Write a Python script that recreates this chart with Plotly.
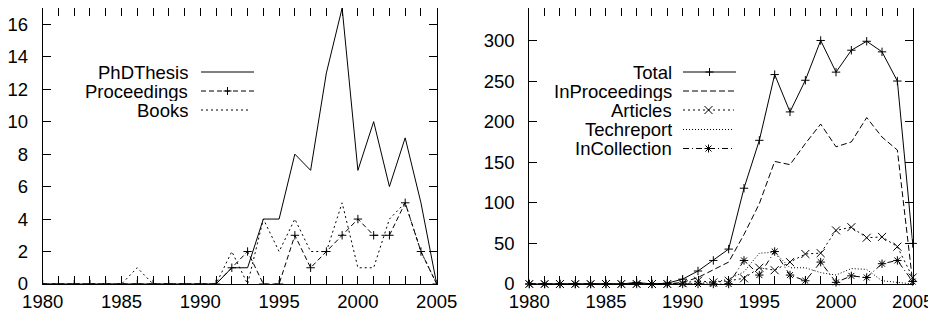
import plotly.graph_objects as go

# ---------------- data ----------------
years = list(range(1980, 2006))

# left panel
phd_thesis = [0, 0, 0, 0, 0, 0, 0, 0, 0, 0, 0, 0,
              1, 1, 4, 4, 8, 7, 13, 17, 7, 10, 6, 9, 5, 0]
proceedings = [0, 0, 0, 0, 0, 0, 0, 0, 0, 0, 0, 0,
               1, 2, 0, 0, 3, 1, 2, 3, 4, 3, 3, 5, 2, 0]
books = [0, 0, 0, 0, 0, 0, 1, 0, 0, 0, 0, 0,
         2, 0, 4, 2, 4, 2, 2, 5, 1, 1, 4, 5, 2, 0]

# right panel
total = [0, 0, 0, 0, 0, 0, 0, 2, 0, 1,
         6, 16, 29, 43, 118, 177, 258, 212, 251, 300, 261, 288, 299, 286, 250, 50]
inproceedings = [0, 0, 0, 0, 0, 0, 0, 1, 0, 0,
                 2, 8, 17, 27, 61, 99, 151, 147, 173, 197, 169, 175, 205, 181, 165, 2]
articles = [0, 0, 0, 0, 0, 0, 0, 0, 0, 0,
            1, 4, 2, 4, 7, 20, 17, 27, 37, 38, 66, 70, 57, 58, 46, 8]
techreport = [0, 0, 0, 0, 0, 0, 0, 0, 0, 0,
              0, 1, 2, 6, 15, 38, 39, 20, 20, 14, 11, 19, 18, 4, 2, 0]
incollection = [0, 0, 0, 0, 0, 0, 0, 0, 0, 0,
                0, 0, 0, 0, 29, 11, 40, 11, 4, 27, 2, 10, 8, 25, 29, 3]

x_tick_labels = [1980, 1985, 1990, 1995, 2000, 2005]

# ---------------- layout helpers ----------------
# the page body has an 8px margin, so target window pixels are shifted by OFF
OFF = 8
W, H = 936, 316
MT = 0
PLOT_BOTTOM = 284 - OFF          # figure px of the x axis line
MB = H - PLOT_BOTTOM
PH = PLOT_BOTTOM - MT
FONT = "Liberation Sans, Arial, Helvetica, sans-serif"
FS = 18.5
BLACK = "black"


def fx(px):  # target window px -> paper fraction
    return (px - OFF) / W


def fy(py):
    return (PLOT_BOTTOM - (py - OFF)) / PH


fig = go.Figure()


def add_series(y, xa, ya, dash, symbol=None, msize=8, clip=True):
    mode = "lines+markers" if symbol else "lines"
    kw = dict(x=years, y=y, mode=mode, xaxis=xa, yaxis=ya,
              line=dict(color=BLACK, width=1, dash=dash),
              showlegend=False, cliponaxis=clip, hoverinfo="x+y")
    if symbol:
        kw["marker"] = dict(symbol=symbol, size=msize, color=BLACK,
                            line=dict(color=BLACK, width=1))
    fig.add_trace(go.Scatter(**kw))


# left panel
add_series(phd_thesis, "x", "y", "solid")
add_series(proceedings, "x", "y", "5px,3px", "cross-thin", 6)
add_series(books, "x", "y", "2px,3px")

# right panel
add_series(total, "x2", "y2", "solid", "cross-thin", 6, clip=False)
add_series(inproceedings, "x2", "y2", "6px,3px")
add_series(articles, "x2", "y2", "2px,3px", "x-thin", 8, clip=False)
add_series(techreport, "x2", "y2", "1px,2px")
add_series(incollection, "x2", "y2", "6px,3px,1px,3px", "asterisk", 7, clip=False)

# ---------------- axes ----------------
def xaxis(domain, anchor):
    return dict(domain=domain, anchor=anchor, range=[1980, 2005],
                tickmode="array", tickvals=x_tick_labels,
                ticks="inside", ticklen=8, tickwidth=1, tickcolor=BLACK,
                minor=dict(dtick=1, tick0=1980, ticks="inside", ticklen=8,
                           tickwidth=1, tickcolor=BLACK, showgrid=False),
                showline=True, linecolor=BLACK, linewidth=1, mirror="allticks",
                showgrid=False, zeroline=False, automargin=False,
                tickfont=dict(family=FONT, size=FS, color=BLACK),
                ticklabelstandoff=1, fixedrange=True)


def yaxis(rng, dtick, anchor):
    return dict(domain=[0, 1], anchor=anchor, range=rng, dtick=dtick, tick0=0,
                ticks="inside", ticklen=8, tickwidth=1, tickcolor=BLACK,
                showline=True, linecolor=BLACK, linewidth=1, mirror="allticks",
                showgrid=False, zeroline=False, automargin=False,
                tickfont=dict(family=FONT, size=FS, color=BLACK),
                ticklabelstandoff=10, fixedrange=True)


fig.update_layout(
    width=W, height=H,
    margin=dict(l=0, r=0, t=MT, b=MB, pad=0, autoexpand=False),
    paper_bgcolor="white", plot_bgcolor="white",
    font=dict(family=FONT, size=FS, color=BLACK),
    showlegend=False,
    xaxis=xaxis([fx(42.7), fx(436.7)], "y"),
    yaxis=yaxis([0, 17], 2, "x"),
    xaxis2=xaxis([fx(529.3), fx(912.7)], "y2"),
    yaxis2=yaxis([0, 340], 50, "x2"),
)

# ---------------- manual legends (gnuplot style) ----------------
shapes = []
annotations = []

PATHS = {
    "cross-thin": "M-4,0H4M0,-4V4",
    "x-thin": "M-4,-4L4,4M-4,4L4,-4",
    "asterisk": "M-4,0H4M0,-4V4M-3,-3L3,3M-3,3L3,-3",
}


def legend_entry(label, text_right, x0, x1, row_y, dash, symbol=None):
    annotations.append(dict(text=label, x=fx(text_right + 1), y=fy(row_y),
                            xref="paper", yref="paper", xanchor="right",
                            yanchor="middle", showarrow=False, height=19,
                            valign="middle", borderpad=0,
                            font=dict(family=FONT, size=FS, color=BLACK)))
    shapes.append(dict(type="line", xref="paper", yref="paper",
                       x0=fx(x0), x1=fx(x1), y0=fy(row_y), y1=fy(row_y),
                       line=dict(color=BLACK, width=1, dash=dash)))
    if symbol:
        shapes.append(dict(type="path", xref="paper", yref="paper",
                           xsizemode="pixel", ysizemode="pixel",
                           xanchor=fx((x0 + x1) / 2), yanchor=fy(row_y),
                           path=PATHS[symbol],
                           line=dict(color=BLACK, width=1)))


legend_entry("PhDThesis", 188, 201, 254, 72, "solid")
legend_entry("Proceedings", 188, 201, 254, 91, "5px,3px", "cross-thin")
legend_entry("Books", 188, 201, 251, 110, "2px,3px")

legend_entry("Total", 672, 683, 736, 72, "solid", "cross-thin")
legend_entry("InProceedings", 672, 683, 736, 91, "6px,3px")
legend_entry("Articles", 672, 683, 734, 110, "2px,3px", "x-thin")
legend_entry("Techreport", 672, 683, 734, 129.5, "1px,2px")
legend_entry("InCollection", 672, 683, 734, 148.5, "6px,3px,1px,3px", "asterisk")

fig.update_layout(shapes=shapes, annotations=annotations)

fig.write_html("out.html")
